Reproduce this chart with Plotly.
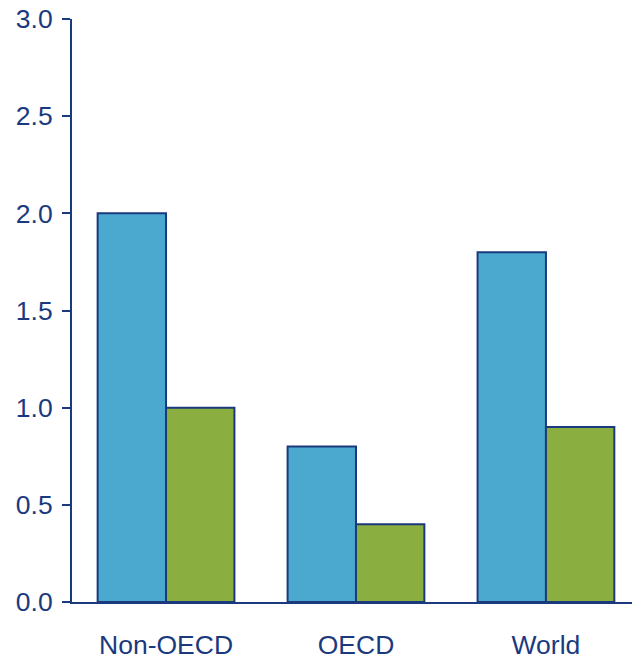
import plotly.graph_objects as go

categories = ["Non-OECD", "OECD", "World"]
series_a = [2.0, 0.8, 1.8]
series_b = [1.0, 0.4, 0.9]
y_ticks = [0.0, 0.5, 1.0, 1.5, 2.0, 2.5, 3.0]
y_tick_labels = ["0.0", "0.5", "1.0", "1.5", "2.0", "2.5", "3.0"]

navy = "#1B3A7E"
fig = go.Figure()
fig.add_trace(go.Bar(x=categories, y=series_a, marker=dict(color="#4BA9D0", line=dict(color=navy, width=2))))
fig.add_trace(go.Bar(x=categories, y=series_b, marker=dict(color="#8BAE40", line=dict(color=navy, width=2))))

fig.update_layout(
    width=632, height=660,
    margin=dict(l=72, r=0, t=19, b=58, autoexpand=False),
    paper_bgcolor="white", plot_bgcolor="white",
    showlegend=False,
    barmode="group", bargap=0.28, bargroupgap=0,
    font=dict(family="Liberation Sans, Arial", size=26.5, color=navy),
)
fig.update_xaxes(range=[-0.495, 2.453], showline=True, linecolor=navy, linewidth=2,
                 ticks="", showgrid=False, ticklabelstandoff=18, automargin=False)
fig.update_yaxes(range=[0, 3.0], tickvals=y_ticks, ticktext=y_tick_labels,
                 showline=True, linecolor=navy, linewidth=2, ticks="outside",
                 ticklen=8, tickcolor=navy, tickwidth=2, showgrid=False, zeroline=False,
                 ticklabelstandoff=4, automargin=False)
fig.write_html("out.html", config={"displayModeBar": False},
               post_script="document.body.style.margin='0';document.body.style.overflow='hidden';")
